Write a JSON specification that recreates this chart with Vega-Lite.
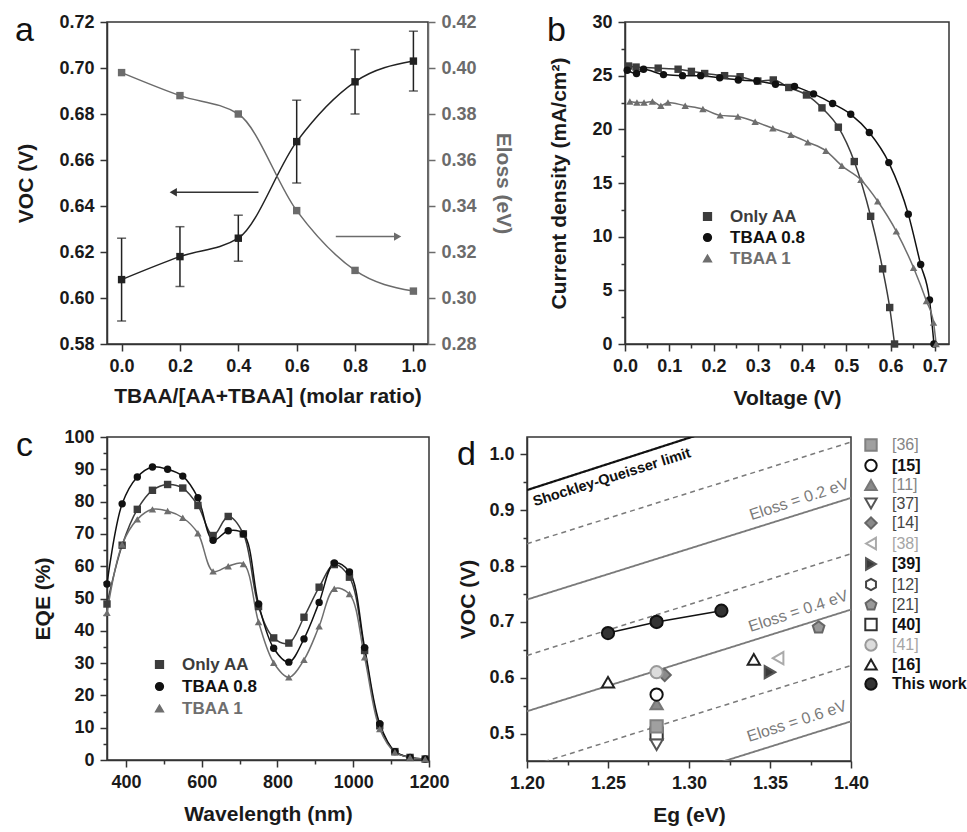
{
  "$schema": "https://vega.github.io/schema/vega-lite/v6.json",
  "background": "white",
  "padding": {"left": 14, "top": 12, "right": 0, "bottom": 0},
  "spacing": 18,
  "resolve": {"scale": {"color": "independent", "shape": "independent", "fill": "independent", "stroke": "independent", "strokeDash": "independent", "strokeWidth": "independent"}, "legend": {"color": "independent", "shape": "independent", "fill": "independent", "stroke": "independent"}},
  "config": {
    "font": "Liberation Sans",
    "view": {"stroke": "#333333", "strokeWidth": 1.5},
    "axis": {"labelFont": "Liberation Sans", "labelFontSize": 18, "labelFontWeight": "bold", "labelColor": "#1a1a1a", "titleFont": "Liberation Sans", "titleFontSize": 21, "titleFontWeight": "bold", "titleColor": "#1a1a1a", "grid": false, "domainColor": "#333333", "domainWidth": 1.5, "tickColor": "#333333", "tickWidth": 1.5, "labelOverlap": false, "labelFlush": false, "labelPadding": 6, "labelBound": false},
    "legend": {"labelFont": "Liberation Sans", "titleFont": "Liberation Sans"},
    "title": {"font": "Liberation Sans", "fontSize": 34, "fontWeight": "normal", "anchor": "start", "frame": "group", "color": "#111111", "offset": -35, "baseline": "alphabetic"}
  },
  "datasets": {
    "a": [
      {"ratio": 0.0, "voc": 0.608, "lo": 0.590, "hi": 0.626, "eloss": 0.398},
      {"ratio": 0.2, "voc": 0.618, "lo": 0.605, "hi": 0.631, "eloss": 0.388},
      {"ratio": 0.4, "voc": 0.626, "lo": 0.616, "hi": 0.636, "eloss": 0.380},
      {"ratio": 0.6, "voc": 0.668, "lo": 0.650, "hi": 0.686, "eloss": 0.338},
      {"ratio": 0.8, "voc": 0.694, "lo": 0.680, "hi": 0.708, "eloss": 0.312},
      {"ratio": 1.0, "voc": 0.703, "lo": 0.690, "hi": 0.716, "eloss": 0.303}
    ],
    "arrowLeft": [{"from": 0.469, "to": 0.177, "y": 0.646}],
    "arrowRight": [{"from": 0.734, "to": 0.946, "y": 0.3267}],
    "jv": [
      {"s": "Only AA", "v": 0.008, "j": 25.9}, {"s": "Only AA", "v": 0.025, "j": 25.8}, {"s": "Only AA", "v": 0.075, "j": 25.7}, {"s": "Only AA", "v": 0.12, "j": 25.6}, {"s": "Only AA", "v": 0.15, "j": 25.4}, {"s": "Only AA", "v": 0.18, "j": 25.2}, {"s": "Only AA", "v": 0.225, "j": 25.0}, {"s": "Only AA", "v": 0.26, "j": 24.9}, {"s": "Only AA", "v": 0.30, "j": 24.5}, {"s": "Only AA", "v": 0.335, "j": 24.6}, {"s": "Only AA", "v": 0.37, "j": 23.9}, {"s": "Only AA", "v": 0.41, "j": 23.2}, {"s": "Only AA", "v": 0.445, "j": 22.0}, {"s": "Only AA", "v": 0.482, "j": 20.2}, {"s": "Only AA", "v": 0.518, "j": 17.0}, {"s": "Only AA", "v": 0.555, "j": 11.9}, {"s": "Only AA", "v": 0.582, "j": 7.0}, {"s": "Only AA", "v": 0.598, "j": 3.4}, {"s": "Only AA", "v": 0.609, "j": 0.0},
      {"s": "TBAA 0.8", "v": 0.005, "j": 25.5}, {"s": "TBAA 0.8", "v": 0.026, "j": 25.2}, {"s": "TBAA 0.8", "v": 0.042, "j": 25.6}, {"s": "TBAA 0.8", "v": 0.087, "j": 25.1}, {"s": "TBAA 0.8", "v": 0.13, "j": 25.0}, {"s": "TBAA 0.8", "v": 0.171, "j": 25.0}, {"s": "TBAA 0.8", "v": 0.214, "j": 24.8}, {"s": "TBAA 0.8", "v": 0.256, "j": 24.6}, {"s": "TBAA 0.8", "v": 0.298, "j": 24.5}, {"s": "TBAA 0.8", "v": 0.34, "j": 24.2}, {"s": "TBAA 0.8", "v": 0.383, "j": 24.0}, {"s": "TBAA 0.8", "v": 0.426, "j": 23.3}, {"s": "TBAA 0.8", "v": 0.469, "j": 22.4}, {"s": "TBAA 0.8", "v": 0.51, "j": 21.4}, {"s": "TBAA 0.8", "v": 0.552, "j": 19.7}, {"s": "TBAA 0.8", "v": 0.596, "j": 16.9}, {"s": "TBAA 0.8", "v": 0.64, "j": 12.1}, {"s": "TBAA 0.8", "v": 0.668, "j": 7.4}, {"s": "TBAA 0.8", "v": 0.688, "j": 4.1}, {"s": "TBAA 0.8", "v": 0.698, "j": 0.0},
      {"s": "TBAA 1", "v": 0.011, "j": 22.6}, {"s": "TBAA 1", "v": 0.027, "j": 22.5}, {"s": "TBAA 1", "v": 0.043, "j": 22.5}, {"s": "TBAA 1", "v": 0.062, "j": 22.6}, {"s": "TBAA 1", "v": 0.081, "j": 22.2}, {"s": "TBAA 1", "v": 0.097, "j": 22.5}, {"s": "TBAA 1", "v": 0.136, "j": 22.2}, {"s": "TBAA 1", "v": 0.176, "j": 21.9}, {"s": "TBAA 1", "v": 0.215, "j": 21.3}, {"s": "TBAA 1", "v": 0.255, "j": 21.2}, {"s": "TBAA 1", "v": 0.294, "j": 20.7}, {"s": "TBAA 1", "v": 0.334, "j": 20.1}, {"s": "TBAA 1", "v": 0.375, "j": 19.5}, {"s": "TBAA 1", "v": 0.413, "j": 18.8}, {"s": "TBAA 1", "v": 0.454, "j": 18.0}, {"s": "TBAA 1", "v": 0.49, "j": 16.6}, {"s": "TBAA 1", "v": 0.533, "j": 15.3}, {"s": "TBAA 1", "v": 0.571, "j": 13.3}, {"s": "TBAA 1", "v": 0.613, "j": 10.5}, {"s": "TBAA 1", "v": 0.652, "j": 7.1}, {"s": "TBAA 1", "v": 0.681, "j": 4.0}, {"s": "TBAA 1", "v": 0.697, "j": 2.0}, {"s": "TBAA 1", "v": 0.703, "j": 0.0}
    ],
    "eqe": [
      {"s": "Only AA", "w": 350, "e": 48.3}, {"s": "Only AA", "w": 390, "e": 66.5}, {"s": "Only AA", "w": 430, "e": 77.6}, {"s": "Only AA", "w": 470, "e": 83.5}, {"s": "Only AA", "w": 510, "e": 85.3}, {"s": "Only AA", "w": 550, "e": 84.2}, {"s": "Only AA", "w": 590, "e": 78.8}, {"s": "Only AA", "w": 630, "e": 69.5}, {"s": "Only AA", "w": 670, "e": 75.4}, {"s": "Only AA", "w": 710, "e": 70.0}, {"s": "Only AA", "w": 750, "e": 47.5}, {"s": "Only AA", "w": 790, "e": 37.8}, {"s": "Only AA", "w": 830, "e": 36.2}, {"s": "Only AA", "w": 870, "e": 44.2}, {"s": "Only AA", "w": 910, "e": 53.5}, {"s": "Only AA", "w": 950, "e": 60.5}, {"s": "Only AA", "w": 990, "e": 56.6}, {"s": "Only AA", "w": 1030, "e": 33.9}, {"s": "Only AA", "w": 1070, "e": 10.6}, {"s": "Only AA", "w": 1110, "e": 2.6}, {"s": "Only AA", "w": 1150, "e": 0.8}, {"s": "Only AA", "w": 1190, "e": 0.3},
      {"s": "TBAA 0.8", "w": 350, "e": 54.5}, {"s": "TBAA 0.8", "w": 390, "e": 79.3}, {"s": "TBAA 0.8", "w": 430, "e": 87.6}, {"s": "TBAA 0.8", "w": 470, "e": 90.7}, {"s": "TBAA 0.8", "w": 510, "e": 90.0}, {"s": "TBAA 0.8", "w": 550, "e": 87.9}, {"s": "TBAA 0.8", "w": 590, "e": 81.2}, {"s": "TBAA 0.8", "w": 630, "e": 68.0}, {"s": "TBAA 0.8", "w": 670, "e": 71.0}, {"s": "TBAA 0.8", "w": 710, "e": 70.0}, {"s": "TBAA 0.8", "w": 750, "e": 48.3}, {"s": "TBAA 0.8", "w": 790, "e": 34.6}, {"s": "TBAA 0.8", "w": 830, "e": 30.3}, {"s": "TBAA 0.8", "w": 870, "e": 37.5}, {"s": "TBAA 0.8", "w": 910, "e": 48.8}, {"s": "TBAA 0.8", "w": 950, "e": 61.0}, {"s": "TBAA 0.8", "w": 990, "e": 58.2}, {"s": "TBAA 0.8", "w": 1030, "e": 34.8}, {"s": "TBAA 0.8", "w": 1070, "e": 11.2}, {"s": "TBAA 0.8", "w": 1110, "e": 2.6}, {"s": "TBAA 0.8", "w": 1150, "e": 0.8}, {"s": "TBAA 0.8", "w": 1190, "e": 0.3},
      {"s": "TBAA 1", "w": 350, "e": 45.6}, {"s": "TBAA 1", "w": 390, "e": 66.7}, {"s": "TBAA 1", "w": 430, "e": 74.5}, {"s": "TBAA 1", "w": 470, "e": 77.6}, {"s": "TBAA 1", "w": 510, "e": 77.1}, {"s": "TBAA 1", "w": 550, "e": 75.0}, {"s": "TBAA 1", "w": 590, "e": 70.2}, {"s": "TBAA 1", "w": 630, "e": 58.4}, {"s": "TBAA 1", "w": 670, "e": 60.0}, {"s": "TBAA 1", "w": 710, "e": 60.7}, {"s": "TBAA 1", "w": 750, "e": 42.7}, {"s": "TBAA 1", "w": 790, "e": 30.1}, {"s": "TBAA 1", "w": 830, "e": 25.6}, {"s": "TBAA 1", "w": 870, "e": 31.0}, {"s": "TBAA 1", "w": 910, "e": 41.4}, {"s": "TBAA 1", "w": 950, "e": 53.0}, {"s": "TBAA 1", "w": 990, "e": 51.4}, {"s": "TBAA 1", "w": 1030, "e": 31.8}, {"s": "TBAA 1", "w": 1070, "e": 9.6}, {"s": "TBAA 1", "w": 1110, "e": 2.4}, {"s": "TBAA 1", "w": 1150, "e": 0.8}, {"s": "TBAA 1", "w": 1190, "e": 0.3}
    ],
    "refLines": [
      {"line": "SQ", "kind": "limit", "eg": 1.2, "v": 0.936}, {"line": "SQ", "kind": "limit", "eg": 1.4, "v": 1.123},
      {"line": "d02", "kind": "dashed", "eg": 1.2, "v": 0.84}, {"line": "d02", "kind": "dashed", "eg": 1.4, "v": 1.022},
      {"line": "s02", "kind": "solid", "eg": 1.2, "v": 0.74}, {"line": "s02", "kind": "solid", "eg": 1.4, "v": 0.922},
      {"line": "d04", "kind": "dashed", "eg": 1.2, "v": 0.64}, {"line": "d04", "kind": "dashed", "eg": 1.4, "v": 0.822},
      {"line": "s04", "kind": "solid", "eg": 1.2, "v": 0.54}, {"line": "s04", "kind": "solid", "eg": 1.4, "v": 0.722},
      {"line": "d06", "kind": "dashed", "eg": 1.2, "v": 0.44}, {"line": "d06", "kind": "dashed", "eg": 1.4, "v": 0.622},
      {"line": "s06", "kind": "solid", "eg": 1.2, "v": 0.34}, {"line": "s06", "kind": "solid", "eg": 1.4, "v": 0.522}
    ],
    "sqLabel": [{"label": "Shockley-Queisser limit", "eg": 1.2524, "v": 0.958}],
    "lossLabels": [
      {"label": "Eloss = 0.2 eV", "eg": 1.368, "v": 0.919},
      {"label": "Eloss = 0.4 eV", "eg": 1.3675, "v": 0.719},
      {"label": "Eloss = 0.6 eV", "eg": 1.3665, "v": 0.522}
    ],
    "thisWork": [
      {"ref": "This work", "eg": 1.25, "v": 0.68},
      {"ref": "This work", "eg": 1.28, "v": 0.70},
      {"ref": "This work", "eg": 1.32, "v": 0.72}
    ],
    "refs": [
      {"ref": "[12]", "eg": 1.28, "v": 0.70},
      {"ref": "[40]", "eg": 1.28, "v": 0.50},
      {"ref": "[36]", "eg": 1.28, "v": 0.513},
      {"ref": "[37]", "eg": 1.28, "v": 0.48},
      {"ref": "[11]", "eg": 1.28, "v": 0.553},
      {"ref": "[15]", "eg": 1.28, "v": 0.57},
      {"ref": "[14]", "eg": 1.285, "v": 0.605},
      {"ref": "[41]", "eg": 1.28, "v": 0.61},
      {"ref": "[38]", "eg": 1.355, "v": 0.635},
      {"ref": "[39]", "eg": 1.35, "v": 0.61},
      {"ref": "[21]", "eg": 1.38, "v": 0.69},
      {"ref": "[16]", "eg": 1.25, "v": 0.592},
      {"ref": "[16]", "eg": 1.34, "v": 0.633},
      {"ref": "This work", "eg": 1.25, "v": 0.68},
      {"ref": "This work", "eg": 1.28, "v": 0.70},
      {"ref": "This work", "eg": 1.32, "v": 0.72}
    ]
  },
  "vconcat": [
    {
      "bounds": "flush",
      "spacing": 197,
      "resolve": {"scale": {"color": "independent", "shape": "independent"}, "legend": {"color": "independent", "shape": "independent"}},
      "hconcat": [
        {
          "title": {"text": "a", "dx": -92},
          "width": 321, "height": 322,
          "data": {"name": "a"},
          "resolve": {"scale": {"y": "independent"}},
          "layer": [
            {
              "encoding": {
                "x": {"field": "ratio", "type": "quantitative", "scale": {"domain": [-0.05, 1.05], "nice": false, "zero": false},
                  "axis": {"title": "TBAA/[AA+TBAA] (molar ratio)", "titlePadding": 10, "values": [0, 0.1, 0.2, 0.3, 0.4, 0.5, 0.6, 0.7, 0.8, 0.9, 1.0],
                    "labelExpr": "round(datum.value*10)%2==0 ? format(datum.value,'.1f') : ''",
                    "tickSize": {"condition": {"test": "round(datum.value*10)%2==0", "value": 7}, "value": 4}}}
              },
              "layer": [
                {"mark": {"type": "rule", "color": "#222222", "strokeWidth": 1.5},
                  "encoding": {"y": {"field": "lo", "type": "quantitative", "scale": {"domain": [0.58, 0.72], "nice": false, "zero": false}, "title": "VOC (V)",
                    "axis": {"titlePadding": 22, "values": [0.58, 0.59, 0.6, 0.61, 0.62, 0.63, 0.64, 0.65, 0.66, 0.67, 0.68, 0.69, 0.7, 0.71, 0.72],
                      "labelExpr": "round(datum.value*100)%2==0 ? format(datum.value,'.2f') : ''",
                      "tickSize": {"condition": {"test": "round(datum.value*100)%2==0", "value": 7}, "value": 4}}},
                    "y2": {"field": "hi"}}},
                {"mark": {"type": "tick", "orient": "horizontal", "color": "#222222", "size": 9, "thickness": 1.5},
                  "encoding": {"y": {"field": "lo", "type": "quantitative", "title": "VOC (V)"}}},
                {"mark": {"type": "tick", "orient": "horizontal", "color": "#222222", "size": 9, "thickness": 1.5},
                  "encoding": {"y": {"field": "hi", "type": "quantitative", "title": "VOC (V)"}}},
                {"mark": {"type": "line", "color": "#222222", "strokeWidth": 1.5, "interpolate": "monotone"},
                  "encoding": {"y": {"field": "voc", "type": "quantitative", "title": "VOC (V)"}}},
                {"mark": {"type": "point", "shape": "square", "filled": true, "color": "#222222", "size": 55, "opacity": 1},
                  "encoding": {"y": {"field": "voc", "type": "quantitative", "title": "VOC (V)"}}},
                {"data": {"name": "arrowLeft"},
                  "mark": {"type": "rule", "color": "#333333", "strokeWidth": 1.5},
                  "encoding": {"x": {"field": "from", "type": "quantitative"}, "x2": {"field": "to"}, "y": {"field": "y", "type": "quantitative", "title": "VOC (V)"}}},
                {"data": {"name": "arrowLeft"},
                  "mark": {"type": "point", "shape": "triangle-left", "filled": true, "color": "#333333", "size": 70, "opacity": 1},
                  "encoding": {"x": {"field": "to", "type": "quantitative"}, "y": {"field": "y", "type": "quantitative", "title": "VOC (V)"}}}
              ]
            },
            {
              "encoding": {
                "x": {"field": "ratio", "type": "quantitative"}
              },
              "layer": [
                {"mark": {"type": "line", "color": "#6b6b6b", "strokeWidth": 1.5, "interpolate": "monotone"},
                  "encoding": {"y": {"field": "eloss", "type": "quantitative", "scale": {"domain": [0.28, 0.42], "nice": false, "zero": false}, "title": "Eloss (eV)",
                    "axis": {"orient": "right", "titlePadding": 16, "titleColor": "#6b6b6b", "labelColor": "#6b6b6b", "domainColor": "#6b6b6b", "tickColor": "#6b6b6b",
                      "values": [0.28, 0.29, 0.3, 0.31, 0.32, 0.33, 0.34, 0.35, 0.36, 0.37, 0.38, 0.39, 0.4, 0.41, 0.42],
                      "labelExpr": "round(datum.value*100)%2==0 ? format(datum.value,'.2f') : ''",
                      "tickSize": {"condition": {"test": "round(datum.value*100)%2==0", "value": 7}, "value": 4}}}}},
                {"mark": {"type": "point", "shape": "square", "filled": true, "color": "#6b6b6b", "size": 55, "opacity": 1},
                  "encoding": {"y": {"field": "eloss", "type": "quantitative", "title": "Eloss (eV)"}}},
                {"data": {"name": "arrowRight"},
                  "mark": {"type": "rule", "color": "#6b6b6b", "strokeWidth": 1.5},
                  "encoding": {"x": {"field": "from", "type": "quantitative"}, "x2": {"field": "to"}, "y": {"field": "y", "type": "quantitative", "title": "Eloss (eV)"}}},
                {"data": {"name": "arrowRight"},
                  "mark": {"type": "point", "shape": "triangle-right", "filled": true, "color": "#6b6b6b", "size": 70, "opacity": 1},
                  "encoding": {"x": {"field": "to", "type": "quantitative"}, "y": {"field": "y", "type": "quantitative", "title": "Eloss (eV)"}}}
              ]
            }
          ]
        },
        {
          "title": {"text": "b", "dx": -78},
          "width": 324, "height": 322,
          "data": {"name": "jv"},
          "encoding": {
            "x": {"field": "v", "type": "quantitative", "scale": {"domain": [0, 0.732], "nice": false, "zero": false},
              "axis": {"title": "Voltage (V)", "titlePadding": 12, "values": [0, 0.05, 0.1, 0.15, 0.2, 0.25, 0.3, 0.35, 0.4, 0.45, 0.5, 0.55, 0.6, 0.65, 0.7],
                "labelExpr": "round(datum.value*100)%10==0 ? format(datum.value,'.1f') : ''",
                "tickSize": {"condition": {"test": "round(datum.value*100)%10==0", "value": 7}, "value": 4}}},
            "y": {"field": "j", "type": "quantitative", "scale": {"domain": [0, 30], "nice": false},
              "axis": {"title": "Current density (mA/cm²)", "titlePadding": 22, "values": [0, 2.5, 5, 7.5, 10, 12.5, 15, 17.5, 20, 22.5, 25, 27.5, 30],
                "labelExpr": "datum.value%5==0 ? format(datum.value,'d') : ''",
                "tickSize": {"condition": {"test": "datum.value%5==0", "value": 7}, "value": 4}}},
            "color": {"field": "s", "type": "nominal", "scale": {"domain": ["Only AA", "TBAA 0.8", "TBAA 1"], "range": ["#3c3c3c", "#111111", "#6e6e6e"]},
              "legend": {"orient": "none", "legendX": 74, "legendY": 186, "title": null, "labelFontSize": 17, "labelFontWeight": "bold", "symbolSize": 60, "rowPadding": 3, "labelOffset": 14,
                "labelColor": {"expr": "datum.label == 'TBAA 1' ? '#6e6e6e' : datum.label == 'Only AA' ? '#3c3c3c' : '#111111'"}}}
          },
          "layer": [
            {"mark": {"type": "line", "strokeWidth": 1.5, "interpolate": "monotone"}},
            {"mark": {"type": "point", "filled": true, "size": 55, "opacity": 1},
              "encoding": {"shape": {"field": "s", "type": "nominal", "scale": {"domain": ["Only AA", "TBAA 0.8", "TBAA 1"], "range": ["square", "circle", "triangle-up"]},
                "legend": {"orient": "none", "legendX": 74, "legendY": 186, "title": null, "labelFontSize": 17, "labelFontWeight": "bold", "symbolSize": 60, "rowPadding": 3, "labelOffset": 14,
                  "labelColor": {"expr": "datum.label == 'TBAA 1' ? '#6e6e6e' : datum.label == 'Only AA' ? '#3c3c3c' : '#111111'"}}}}}
          ]
        }
      ]
    },
    {
      "bounds": "flush",
      "spacing": 98,
      "resolve": {"scale": {"color": "independent", "shape": "independent", "fill": "independent", "stroke": "independent", "strokeDash": "independent", "strokeWidth": "independent"}, "legend": {"color": "independent", "shape": "independent", "fill": "independent", "stroke": "independent"}},
      "hconcat": [
        {
          "title": {"text": "c", "dx": -91},
          "width": 322, "height": 323,
          "data": {"name": "eqe"},
          "encoding": {
            "x": {"field": "w", "type": "quantitative", "scale": {"domain": [350, 1200], "nice": false, "zero": false},
              "axis": {"title": "Wavelength (nm)", "titlePadding": 12, "values": [400, 500, 600, 700, 800, 900, 1000, 1100, 1200],
                "labelExpr": "datum.value%200==0 ? format(datum.value,'d') : ''",
                "tickSize": {"condition": {"test": "datum.value%200==0", "value": 7}, "value": 4}}},
            "y": {"field": "e", "type": "quantitative", "scale": {"domain": [0, 100], "nice": false},
              "axis": {"title": "EQE (%)", "titlePadding": 10, "values": [0, 5, 10, 15, 20, 25, 30, 35, 40, 45, 50, 55, 60, 65, 70, 75, 80, 85, 90, 95, 100],
                "labelExpr": "datum.value%10==0 ? format(datum.value,'d') : ''",
                "tickSize": {"condition": {"test": "datum.value%10==0", "value": 7}, "value": 4}}},
            "color": {"field": "s", "type": "nominal", "scale": {"domain": ["Only AA", "TBAA 0.8", "TBAA 1"], "range": ["#3c3c3c", "#111111", "#6e6e6e"]},
              "legend": {"orient": "none", "legendX": 44, "legendY": 219, "title": null, "labelFontSize": 17, "labelFontWeight": "bold", "symbolSize": 60, "rowPadding": 4, "labelOffset": 14,
                "labelColor": {"expr": "datum.label == 'TBAA 1' ? '#6e6e6e' : datum.label == 'Only AA' ? '#3c3c3c' : '#111111'"}}}
          },
          "layer": [
            {"mark": {"type": "line", "strokeWidth": 1.5, "interpolate": "catmull-rom"}},
            {"mark": {"type": "point", "filled": true, "size": 55, "opacity": 1},
              "encoding": {"shape": {"field": "s", "type": "nominal", "scale": {"domain": ["Only AA", "TBAA 0.8", "TBAA 1"], "range": ["square", "circle", "triangle-up"]},
                "legend": {"orient": "none", "legendX": 44, "legendY": 219, "title": null, "labelFontSize": 17, "labelFontWeight": "bold", "symbolSize": 60, "rowPadding": 4, "labelOffset": 14,
                  "labelColor": {"expr": "datum.label == 'TBAA 1' ? '#6e6e6e' : datum.label == 'Only AA' ? '#3c3c3c' : '#111111'"}}}}}
          ]
        },
        {
          "title": {"text": "d", "dx": -70},
          "width": 324, "height": 324,
          "encoding": {
            "x": {"field": "eg", "type": "quantitative", "scale": {"domain": [1.2, 1.4], "nice": false, "zero": false},
              "axis": {"title": "Eg (eV)", "titlePadding": 12, "values": [1.2, 1.225, 1.25, 1.275, 1.3, 1.325, 1.35, 1.375, 1.4],
                "labelExpr": "round(datum.value*1000)%50==0 ? format(datum.value,'.2f') : ''",
                "tickSize": {"condition": {"test": "round(datum.value*1000)%50==0", "value": 7}, "value": 4}}},
            "y": {"field": "v", "type": "quantitative", "scale": {"domain": [0.451, 1.031], "nice": false, "zero": false},
              "axis": {"title": "VOC (V)", "titlePadding": 10, "values": [0.5, 0.55, 0.6, 0.65, 0.7, 0.75, 0.8, 0.85, 0.9, 0.95, 1.0],
                "labelExpr": "round(datum.value*100)%10==0 ? format(datum.value,'.1f') : ''",
                "tickSize": {"condition": {"test": "round(datum.value*100)%10==0", "value": 7}, "value": 4}}}
          },
          "layer": [
            {"data": {"name": "refLines"},
              "mark": {"type": "line", "clip": true},
              "encoding": {
                "detail": {"field": "line", "type": "nominal"},
                "color": {"field": "kind", "type": "nominal", "scale": {"domain": ["limit", "solid", "dashed"], "range": ["#111111", "#7a7a7a", "#7a7a7a"]}, "legend": null},
                "strokeDash": {"field": "kind", "type": "nominal", "scale": {"domain": ["limit", "solid", "dashed"], "range": [[1, 0], [1, 0], [5, 4]]}, "legend": null},
                "strokeWidth": {"field": "kind", "type": "nominal", "scale": {"domain": ["limit", "solid", "dashed"], "range": [2.2, 1.5, 1.5]}, "legend": null}
              }},
            {"data": {"name": "sqLabel"},
              "mark": {"type": "text", "angle": -17.5, "font": "Liberation Sans", "fontWeight": "bold", "fontSize": 14.5, "color": "#111111"},
              "encoding": {"text": {"field": "label"}}},
            {"data": {"name": "lossLabels"},
              "mark": {"type": "text", "angle": -18, "font": "Liberation Sans", "fontSize": 16, "color": "#7a7a7a"},
              "encoding": {"text": {"field": "label"}}},
            {"data": {"name": "thisWork"},
              "mark": {"type": "line", "color": "#111111", "strokeWidth": 1.5}},
            {"data": {"name": "refs"},
              "mark": {"type": "point", "strokeWidth": 2, "size": 150, "opacity": 1},
              "encoding": {
                "shape": {"field": "ref", "type": "nominal", "scale": {"domain": ["[36]", "[15]", "[11]", "[37]", "[14]", "[38]", "[39]", "[12]", "[21]", "[40]", "[41]", "[16]", "This work"],
                  "range": ["square", "circle", "triangle-up", "triangle-down", "diamond", "triangle-left", "triangle-right", "M0,-1L0.866,-0.5L0.866,0.5L0,1L-0.866,0.5L-0.866,-0.5Z", "M0,-1L0.951,-0.309L0.588,0.809L-0.588,0.809L-0.951,-0.309Z", "square", "circle", "triangle-up", "circle"]},
                  "legend": {"orient": "right", "offset": 12, "title": null, "labelFontSize": 16, "symbolSize": 130, "rowPadding": 0.5, "labelOffset": 13, "symbolStrokeWidth": 2,
                    "labelFontWeight": {"expr": "indexof(['[15]','[39]','[40]','[16]','This work'], datum.label) >= 0 ? 'bold' : 'normal'"},
                    "labelColor": {"expr": "indexof(['[15]','[39]','[40]','[16]','This work'], datum.label) >= 0 ? '#111111' : indexof(['[38]','[41]'], datum.label) >= 0 ? '#a5a5a5' : indexof(['[36]','[11]'], datum.label) >= 0 ? '#858585' : '#444444'"}}},
                "fill": {"field": "ref", "type": "nominal", "scale": {"domain": ["[36]", "[15]", "[11]", "[37]", "[14]", "[38]", "[39]", "[12]", "[21]", "[40]", "[41]", "[16]", "This work"],
                  "range": ["#a0a0a0", "#ffffff", "#8a8a8a", "#ffffff", "#8a8a8a", "#ffffff", "#3a3a3a", "#ffffff", "#999999", "#ffffff", "#dcdcdc", "#ffffff", "#333333"]},
                  "legend": {"orient": "right", "offset": 12, "title": null, "labelFontSize": 16, "symbolSize": 130, "rowPadding": 0.5, "labelOffset": 13, "symbolStrokeWidth": 2,
                    "labelFontWeight": {"expr": "indexof(['[15]','[39]','[40]','[16]','This work'], datum.label) >= 0 ? 'bold' : 'normal'"},
                    "labelColor": {"expr": "indexof(['[15]','[39]','[40]','[16]','This work'], datum.label) >= 0 ? '#111111' : indexof(['[38]','[41]'], datum.label) >= 0 ? '#a5a5a5' : indexof(['[36]','[11]'], datum.label) >= 0 ? '#858585' : '#444444'"}}},
                "stroke": {"field": "ref", "type": "nominal", "scale": {"domain": ["[36]", "[15]", "[11]", "[37]", "[14]", "[38]", "[39]", "[12]", "[21]", "[40]", "[41]", "[16]", "This work"],
                  "range": ["#808080", "#111111", "#777777", "#555555", "#666666", "#aaaaaa", "#555555", "#444444", "#666666", "#333333", "#9a9a9a", "#222222", "#111111"]},
                  "legend": {"orient": "right", "offset": 12, "title": null, "labelFontSize": 16, "symbolSize": 130, "rowPadding": 0.5, "labelOffset": 13, "symbolStrokeWidth": 2,
                    "labelFontWeight": {"expr": "indexof(['[15]','[39]','[40]','[16]','This work'], datum.label) >= 0 ? 'bold' : 'normal'"},
                    "labelColor": {"expr": "indexof(['[15]','[39]','[40]','[16]','This work'], datum.label) >= 0 ? '#111111' : indexof(['[38]','[41]'], datum.label) >= 0 ? '#a5a5a5' : indexof(['[36]','[11]'], datum.label) >= 0 ? '#858585' : '#444444'"}}}
              }}
          ]
        }
      ]
    }
  ]
}
